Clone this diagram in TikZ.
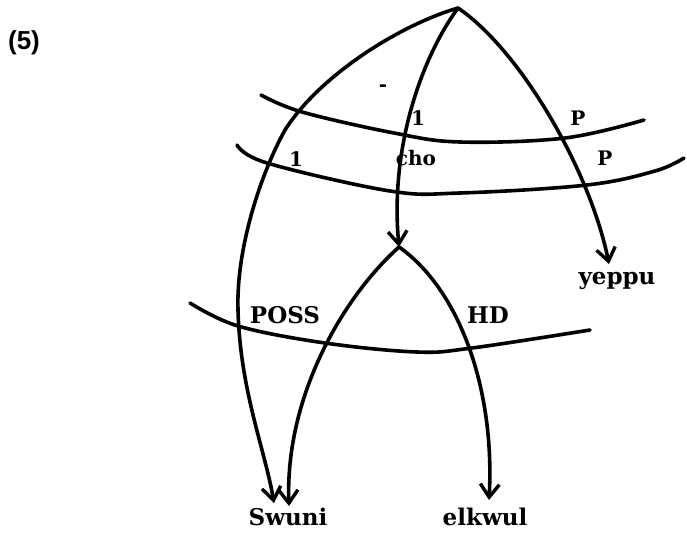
\documentclass[tikz,border=0pt]{standalone}
\usepackage{fontspec}
\setmainfont{DejaVu Serif}
\newfontfamily\exfont{Liberation Sans}
\usetikzlibrary{arrows.meta}
\begin{document}
\begin{tikzpicture}[x=1pt,y=-1pt,
  wire/.style={line width=3.6pt,line cap=round,line join=round},
  arr/.style={wire,-{Straight Barb[length=13pt,width=19pt,line width=3.4pt]}},
  lab/.style={font=\fontsize{20}{20}\selectfont\bfseries,inner sep=0pt},
  big/.style={font=\fontsize{23}{23}\selectfont\bfseries,inner sep=0pt},
  word/.style={font=\fontsize{23}{23}\selectfont\bfseries,inner sep=0pt,anchor=base}]
\useasboundingbox (0,0) rectangle (687,535);
\node[font=\exfont\fontsize{26}{26}\selectfont\bfseries,inner sep=0pt] (ex) at (24,43) {(5)};
% nodes
\coordinate (top) at (458,8);
\coordinate (mid) at (399,247);
\node[word] (swuni) at (288,525) {Swuni};
\node[word] (elkwul) at (485,525) {elkwul};
\node[word] (yeppu) at (617,284) {yeppu};
\coordinate (sw1) at (274,503);
\coordinate (sw2) at (289,506);
\coordinate (el) at (489,500);
\coordinate (yp) at (609,264);
% bands
\draw[wire] plot[smooth,tension=0.6] coordinates {(261,95) (302,112) (394,133) (460,142) (565,138) (644,120)};
\draw[wire] plot[smooth,tension=0.6] coordinates {(237,145) (267,163) (390,191) (460,193) (587,185) (655,171) (684,158)};
\draw[wire] plot[smooth,tension=0.6] coordinates {(190,303) (238,326) (325,343) (417,352) (472,348) (590,330)};
% connectors
\draw[arr] (top) .. controls (400,25) and (320,75) .. (285,130) .. controls (260,175) and (236,250) .. (238,310) .. controls (240,390) and (265,450) .. (sw1);
\draw[arr] (top) .. controls (420,60) and (390,150) .. (mid);
\draw[arr] (top) .. controls (520,50) and (590,170) .. (yp);
\draw[arr] (mid) .. controls (340,300) and (285,400) .. (sw2);
\draw[arr] (mid) .. controls (460,290) and (495,390) .. (el);
% labels
\node[font=\fontsize{20}{20}\selectfont\bfseries,inner sep=0pt] (d) at (383,88) {-};
\node[lab] (l1) at (418,118) {1};
\node[lab] (p1) at (578,118) {P};
\node[lab] (l2) at (296,159) {1};
\node[lab] (cho) at (416,158) {cho};
\node[lab] (p2) at (605,158) {P};
\node[big] (poss) at (285,315) {POSS};
\node[big] (hd) at (488,315) {HD};
\end{tikzpicture}
\end{document}
